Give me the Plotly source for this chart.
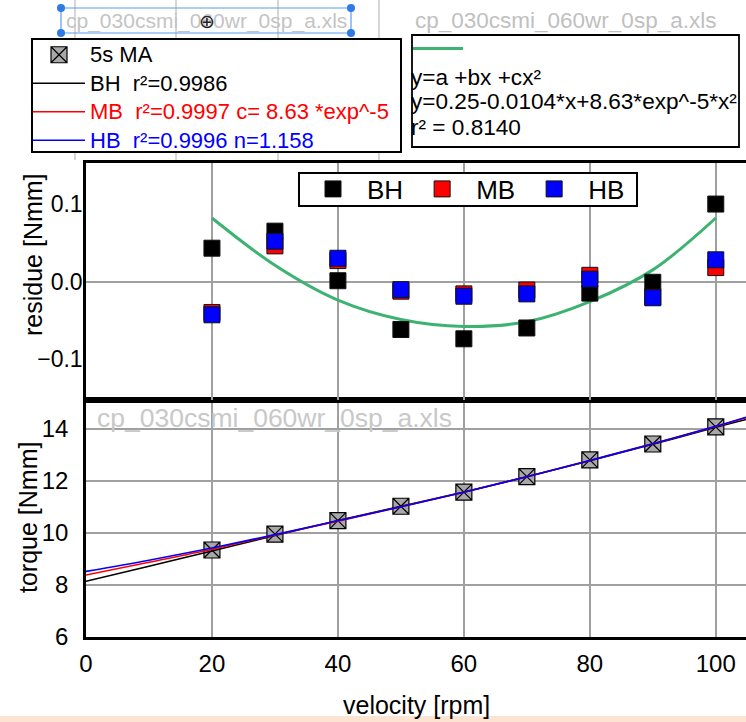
import plotly.graph_objects as go

# ---------------- data ----------------
velocity = [20, 30, 40, 50, 60, 70, 80, 90, 100]
torque_ma = [9.34, 9.95, 10.47, 11.02, 11.56, 12.16, 12.80, 13.41, 14.07]

fit_x = [0, 10, 20, 30, 40, 50, 60, 70, 80, 90, 100, 104.8]
fit_bh = [8.14, 8.72, 9.30, 9.90, 10.47, 11.02, 11.57, 12.15, 12.77, 13.40, 14.05, 14.35]
fit_mb = [8.38, 8.87, 9.37, 9.92, 10.45, 11.00, 11.56, 12.15, 12.78, 13.42, 14.08, 14.42]
fit_hb = [8.52, 8.95, 9.42, 9.93, 10.46, 11.00, 11.56, 12.15, 12.78, 13.42, 14.09, 14.44]

res_bh = [0.043, 0.065, 0.001, -0.062, -0.074, -0.060, -0.015, -0.001, 0.100]
res_mb = [-0.040, 0.046, 0.027, -0.0125, -0.016, -0.011, 0.008, -0.020, 0.018]
res_hb = [-0.043, 0.052, 0.030, -0.0105, -0.019, -0.016, 0.003, -0.021, 0.028]
res_fit = [0.082, 0.021, -0.024, -0.049, -0.058, -0.052, -0.026, 0.015, 0.082]

names_torque = ["5s MA", "BH  r²=0.9986", "MB  r²=0.9997 c= 8.63 *exp^-5", "HB  r²=0.9996 n=1.158"]
names_res = ["BH", "MB", "HB"]
fit_text = ["y=a +bx +cx²", "y=0.25-0.0104*x+8.63*exp^-5*x²", "r² = 0.8140"]
file_title = "cp_030csmi_060wr_0sp_a.xls"

# ---------------- geometry helpers ----------------
W, H = 746, 722
L, R, T, B = 86, 746, 163, 637


def px(x):
    return (x - L) / (R - L)


def py(y):
    return (B - y) / (B - T)


FONT = "Liberation Sans, Arial, sans-serif"

fig = go.Figure()

# torque panel
fig.add_trace(go.Scatter(x=velocity, y=torque_ma, mode="markers",
                         name="<span style='font-size:22px'>%s</span>" % names_torque[0],
                         marker=dict(symbol="square-x", size=16, color="#a8a8a8",
                                     line=dict(color="black", width=1.2)),
                         xaxis="x", yaxis="y", legend="legend"))
for yv, col, nm in [(fit_bh, "black", names_torque[1]),
                    (fit_mb, "red", names_torque[2]),
                    (fit_hb, "blue", names_torque[3])]:
    fig.add_trace(go.Scatter(x=fit_x, y=yv, mode="lines", line=dict(color=col, width=1.6, shape="spline"),
                             name="<span style='font-size:22px;color:%s'>%s</span>" % (col, nm),
                             xaxis="x", yaxis="y", legend="legend"))

# residue panel
fig.add_trace(go.Scatter(x=velocity, y=res_fit, mode="lines", name=" ",
                         line=dict(color="#3cb371", width=3, shape="spline"),
                         xaxis="x2", yaxis="y2", legend="legend3"))
for yv, col, nm in [(res_bh, "#000000", names_res[0]),
                    (res_mb, "#ff0000", names_res[1]),
                    (res_hb, "#0000ff", names_res[2])]:
    fig.add_trace(go.Scatter(x=velocity, y=yv, mode="markers", name=nm,
                             marker=dict(symbol="square", size=16, color=col,
                                         line=dict(color="#111111", width=1)),
                             xaxis="x2", yaxis="y2", legend="legend2"))

line_common = dict(showline=True, linecolor="black", linewidth=2.5, ticks="")

fig.update_layout(
    width=W, height=H, autosize=False,
    margin=dict(l=L, r=W - R, t=T, b=H - B, pad=0),
    paper_bgcolor="white", plot_bgcolor="white",
    font=dict(family=FONT, color="black"),
    xaxis=dict(domain=[0, 1], range=[0, 104.8], dtick=20, tick0=0, anchor="y",
               showgrid=True, gridcolor="#a0a0a0", gridwidth=1.5, mirror=True,
               zeroline=False, ticklabelstandoff=3,
               tickfont=dict(family=FONT, size=24, color="black"), **line_common),
    yaxis=dict(domain=[0, 0.5], range=[6, 15.1], dtick=2, tick0=6, anchor="x",
               showgrid=True, gridcolor="#a0a0a0", gridwidth=1.5, zeroline=False,
               ticklabelstandoff=10, tickfont=dict(family=FONT, size=24, color="black"), **line_common),
    xaxis2=dict(domain=[0, 1], range=[0, 104.8], dtick=20, tick0=0, anchor="y2", matches="x",
                showticklabels=False, showgrid=True, gridcolor="#a0a0a0", gridwidth=1.5,
                mirror=True, zeroline=False, **line_common),
    yaxis2=dict(domain=[0.5, 1], range=[-0.153, 0.153], tickvals=[-0.1, 0, 0.1],
                tickformat=".1f", anchor="x2", showgrid=False, zeroline=True,
                zerolinecolor="#a0a0a0", zerolinewidth=1.5, ticklabelstandoff=-4,
                tickfont=dict(family=FONT, size=23, color="black"), **line_common),
    showlegend=True,
    legend=dict(x=px(28), y=py(35.5), xanchor="left", yanchor="top", bgcolor="rgba(0,0,0,0)",
                borderwidth=0, font=dict(family=FONT, size=19.6, color="black"),
                itemwidth=52, tracegroupgap=0),
    legend2=dict(x=px(299), y=py(165.5), xanchor="left", yanchor="top", bgcolor="rgba(0,0,0,0)",
                 orientation="h", borderwidth=0,
                 font=dict(family=FONT, size=26, color="black"), itemwidth=58),
    legend3=dict(x=px(408), y=py(33), xanchor="left", yanchor="top", bgcolor="rgba(0,0,0,0)",
                 borderwidth=0, font=dict(family=FONT, size=14, color="black"), itemwidth=50),
)

shapes = []
# ghost grid lines in header area
for gx in [75, 176, 278, 379]:
    shapes.append(dict(type="line", xref="paper", yref="paper", x0=px(gx), x1=px(gx),
                       y0=py(0), y1=py(160), line=dict(color="#c8c8c8", width=1.5), layer="below"))
# selection box around first title
shapes.append(dict(type="rect", xref="paper", yref="paper", x0=px(61), x1=px(351), y0=py(8), y1=py(33),
                   line=dict(color="#5b9bf0", width=1.2)))
for hx in [61, 351]:
    for hy in [8, 33]:
        shapes.append(dict(type="circle", xref="paper", yref="paper", x0=px(hx - 4), x1=px(hx + 4),
                           y0=py(hy - 4), y1=py(hy + 4), fillcolor="#2f7ae5", line=dict(width=0)))
# legend frames
shapes.append(dict(type="rect", xref="paper", yref="paper", x0=px(32), x1=px(401), y0=py(39), y1=py(152),
                   fillcolor="white", line=dict(color="black", width=2)))
shapes.append(dict(type="rect", xref="paper", yref="paper", x0=px(299), x1=px(637), y0=py(173), y1=py(206),
                   fillcolor="white", line=dict(color="black", width=2)))
shapes.append(dict(type="rect", xref="paper", yref="paper", x0=px(412), x1=px(739), y0=py(35), y1=py(147),
                   fillcolor="white", line=dict(color="black", width=1.8)))
# peach band at bottom
shapes.append(dict(type="rect", xref="paper", yref="paper", x0=px(0), x1=px(746), y0=py(716), y1=py(722),
                   fillcolor="#fde4d2", line=dict(width=0)))
fig.update_layout(shapes=shapes)

ann = []
ann.append(dict(text=file_title, x=px(206), y=py(21), xref="paper", yref="paper", showarrow=False,
                xanchor="center", yanchor="middle", font=dict(family=FONT, size=21, color="#c4c4c4")))
ann.append(dict(text="⊕", x=px(207), y=py(21), xref="paper", yref="paper", showarrow=False,
                xanchor="center", yanchor="middle", font=dict(family="DejaVu Sans", size=19, color="#222222")))
ann.append(dict(text=file_title, x=px(565), y=py(20), xref="paper", yref="paper", showarrow=False,
                xanchor="center", yanchor="middle", font=dict(family=FONT, size=22.5, color="#c0c0c0")))
for t, yy in zip(fit_text, [77, 102, 128]):
    ann.append(dict(text=t, x=px(409), y=py(yy), xref="paper", yref="paper", showarrow=False,
                    xanchor="left", yanchor="middle", font=dict(family=FONT, size=22.6, color="black")))
ann.append(dict(text=file_title, x=px(95), y=py(418), xref="paper", yref="paper", showarrow=False,
                xanchor="left", yanchor="middle", font=dict(family=FONT, size=26.5, color="#c8c8c8")))
ann.append(dict(text="residue [Nmm]", x=px(33), y=py(255), xref="paper", yref="paper", showarrow=False,
                textangle=-90, xanchor="center", yanchor="middle", font=dict(family=FONT, size=25, color="black")))
ann.append(dict(text="torque [Nmm]", x=px(28), y=py(518), xref="paper", yref="paper", showarrow=False,
                textangle=-90, xanchor="center", yanchor="middle", font=dict(family=FONT, size=25, color="black")))
ann.append(dict(text="velocity [rpm]", x=px(416), y=py(705), xref="paper", yref="paper", showarrow=False,
                xanchor="center", yanchor="middle", font=dict(family=FONT, size=25, color="black")))
fig.update_layout(annotations=ann)

fig.write_html("out.html")
